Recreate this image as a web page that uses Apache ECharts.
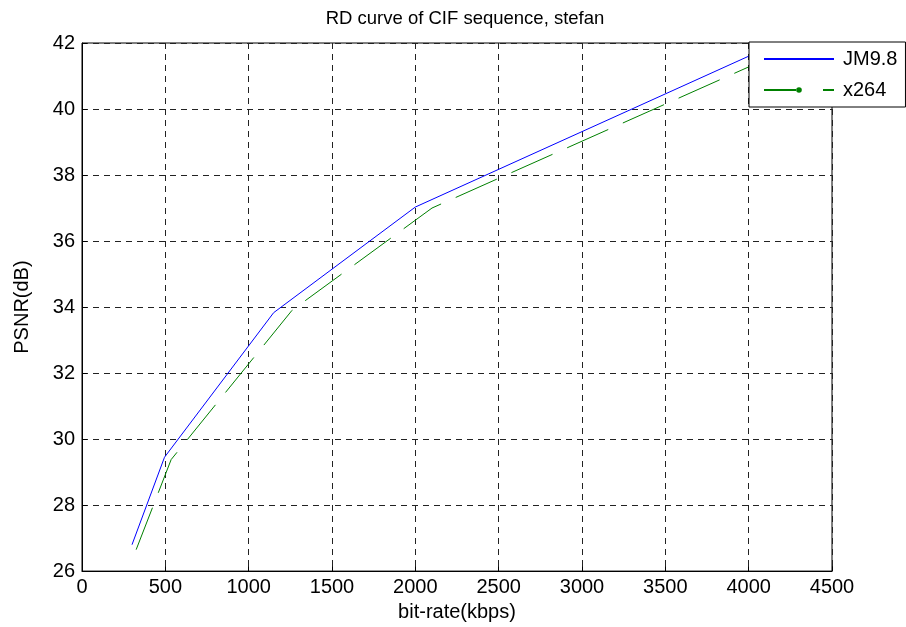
<!DOCTYPE html>
<html>
<head>
<meta charset="utf-8">
<script src="https://cdn.jsdelivr.net/npm/echarts@6/dist/echarts.min.js"></script>
<style>
  html, body { margin: 0; padding: 0; background: #fff; }
  #chart { width: 906px; height: 627px; }
</style>
</head>
<body>
<div id="chart"></div>
<script>
// Rate-distortion points (bit-rate in kbps, PSNR in dB)
const jmRate   = [300, 495, 1150, 2000, 4000];
const jmPsnr   = [26.8, 29.45, 33.83, 37.03, 41.6];
const x264Rate = [325, 535, 1260, 2100, 4100];
const x264Psnr = [26.65, 29.38, 33.9, 37.0, 41.5];

const seriesNames = ['JM9.8', 'x264'];
const xTicks = { min: 0, max: 4500, interval: 500 };
const yTicks = { min: 26, max: 42, interval: 2 };

const pairs = (xs, ys) => xs.map((x, i) => [x, ys[i]]);

const font = 'Arial, "Liberation Sans", Helvetica, sans-serif';
const gridDash = { color: '#222', width: 1, type: [6, 5] };

const chart = echarts.init(document.getElementById('chart'), null, { renderer: 'canvas' });

chart.setOption({
  backgroundColor: '#fff',
  animation: false,
  title: {
    text: 'RD curve of CIF sequence, stefan',
    left: 460, top: 4, textAlign: 'center',
    textStyle: { fontFamily: font, fontSize: 18.5, fontWeight: 'normal', color: '#000' }
  },
  grid: {
    left: 82, right: 74, top: 43, bottom: 54,
    show: true, borderColor: '#000', borderWidth: 1, backgroundColor: '#fff'
  },
  legend: {
    orient: 'vertical',
    left: 749, top: 42,
    padding: [6, 8, 6, 14],
    itemWidth: 70, itemHeight: 7, itemGap: 9,
    backgroundColor: '#fff', borderColor: '#000', borderWidth: 1, borderRadius: 0,
    textStyle: { fontFamily: font, fontSize: 20, color: '#000', lineHeight: 22, padding: [0, 0, 0, 4] },
    data: [
      { name: seriesNames[0], itemStyle: { opacity: 0 } },
      { name: seriesNames[1], lineStyle: { type: [32, 27] } }
    ]
  },
  xAxis: {
    type: 'value', min: xTicks.min, max: xTicks.max, interval: xTicks.interval,
    name: 'bit-rate(kbps)', nameLocation: 'middle', nameGap: 30,
    nameTextStyle: { fontFamily: font, fontSize: 20, color: '#000' },
    axisLine: { show: true, onZero: false, lineStyle: { color: '#000', width: 1 } },
    axisTick: { show: true, inside: true, length: 5, lineStyle: { color: '#000' } },
    axisLabel: { fontFamily: font, fontSize: 20, color: '#000', margin: 6, formatter: v => String(v) },
    splitLine: { show: true, lineStyle: gridDash }
  },
  yAxis: {
    type: 'value', min: yTicks.min, max: yTicks.max, interval: yTicks.interval,
    name: 'PSNR(dB)', nameLocation: 'middle', nameGap: 50, nameRotate: 90,
    nameTextStyle: { fontFamily: font, fontSize: 20, color: '#000' },
    axisLine: { show: true, onZero: false, lineStyle: { color: '#000', width: 1 } },
    axisTick: { show: true, inside: true, length: 5, lineStyle: { color: '#000' } },
    axisLabel: { fontFamily: font, fontSize: 20, color: '#000', margin: 7, formatter: v => String(v) },
    splitLine: { show: true, lineStyle: gridDash }
  },
  series: [
    {
      name: seriesNames[0], type: 'line',
      data: pairs(jmRate, jmPsnr),
      symbol: 'none', showSymbol: false,
      color: '#0000ff',
      lineStyle: { color: '#0000ff', width: 1 },
      z: 3
    },
    {
      name: seriesNames[1], type: 'line',
      data: pairs(x264Rate, x264Psnr),
      symbol: 'circle', symbolSize: 5, showSymbol: false,
      color: '#008000',
      itemStyle: { color: '#008000' },
      lineStyle: { color: '#008000', width: 1, type: [45, 16] },
      z: 3
    }
  ]
});
</script>
</body>
</html>
